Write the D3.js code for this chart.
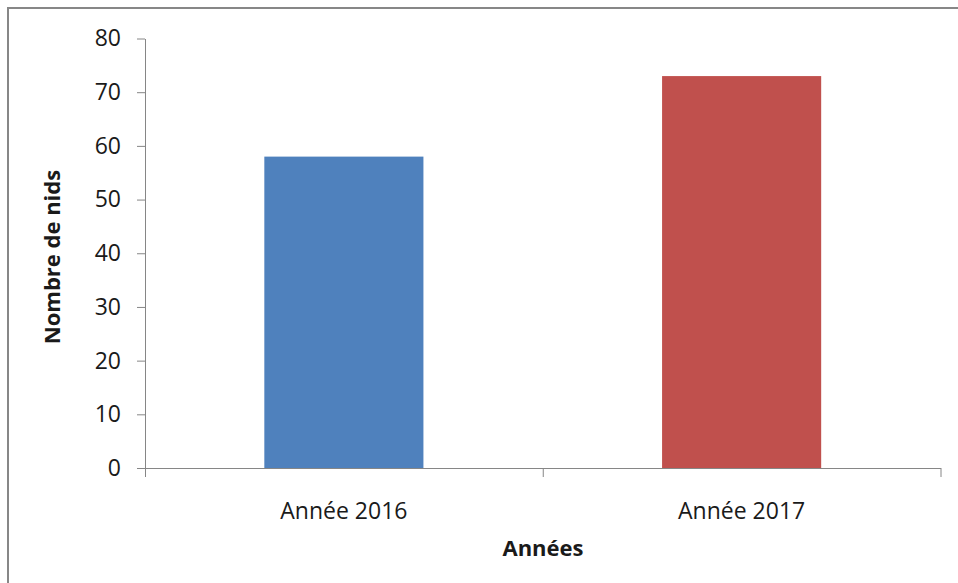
<!DOCTYPE html>
<html>
<head>
<meta charset="utf-8">
<script src="https://cdn.jsdelivr.net/npm/d3@7"></script>
<style>
  html, body { margin: 0; padding: 0; background: #fff; }
  svg { display: block; font-family: "Open Sans", sans-serif; }
</style>
</head>
<body>
<svg id="chart"></svg>
<script>
const categories = ["Année 2016", "Année 2017"];
const values = [58, 73];
const colors = ["#4F81BD", "#C0504D"];
const yTicks = [0, 10, 20, 30, 40, 50, 60, 70, 80];
const xTitle = "Années";
const yTitle = "Nombre de nids";

const width = 958;
const height = 583;
const plot = { left: 145, right: 940.5, top: 38.5, bottom: 468 };
const axisColor = "#868686";
const textColor = "#1a1a1a";

const svg = d3.select("#chart").attr("width", width).attr("height", height);

// outer frame (top + left edges visible in the crop)
svg.append("path")
  .attr("d", `M8,${height} V8 H${width}`)
  .attr("fill", "none")
  .attr("stroke", "#878787")
  .attr("stroke-width", 2);

const x = d3.scaleBand()
  .domain(categories)
  .range([plot.left, plot.right])
  .paddingInner(0.6)
  .paddingOuter(0.3);

// category boundaries for the tick marks
const xEdges = d3.scaleLinear()
  .domain([0, categories.length])
  .range([plot.left, plot.right]);

const y = d3.scaleLinear()
  .domain([0, 80])
  .range([plot.bottom, plot.top]);

svg.selectAll(".bar")
  .data(values)
  .enter()
  .append("rect")
  .attr("class", "bar")
  .attr("x", (d, i) => x(categories[i]))
  .attr("y", (d) => y(d))
  .attr("width", x.bandwidth())
  .attr("height", (d) => y(0) - y(d))
  .attr("fill", (d, i) => colors[i]);

// y axis
const yAxis = svg.append("g")
  .attr("transform", `translate(${plot.left},0)`)
  .call(d3.axisLeft(y).tickValues(yTicks).tickSize(8).tickPadding(16).tickSizeOuter(0));
yAxis.select(".domain").attr("stroke", axisColor);
yAxis.selectAll(".tick line").attr("stroke", axisColor);
yAxis.selectAll(".tick text")
  .attr("fill", textColor)
  .attr("font-size", "23px")
  .attr("font-family", "Open Sans, sans-serif");

// x axis
const xAxis = svg.append("g")
  .attr("transform", `translate(0,${plot.bottom})`)
  .call(d3.axisBottom(xEdges).tickValues(d3.range(categories.length + 1)).tickSize(9).tickFormat("").tickSizeOuter(0));
xAxis.select(".domain").attr("stroke", axisColor);
xAxis.selectAll(".tick line").attr("stroke", axisColor);

svg.selectAll(".cat-label")
  .data(categories)
  .enter()
  .append("text")
  .attr("class", "cat-label")
  .attr("x", (d) => x(d) + x.bandwidth() / 2)
  .attr("y", plot.bottom + 51)
  .attr("text-anchor", "middle")
  .attr("fill", textColor)
  .attr("font-size", "23px")
  .text((d) => d);

svg.append("text")
  .attr("x", 543)
  .attr("y", 556)
  .attr("text-anchor", "middle")
  .attr("fill", textColor)
  .attr("font-size", "22px")
  .attr("font-weight", "bold")
  .text(xTitle);

svg.append("text")
  .attr("transform", "translate(60,257) rotate(-90)")
  .attr("text-anchor", "middle")
  .attr("fill", textColor)
  .attr("font-size", "22px")
  .attr("font-weight", "bold")
  .text(yTitle);
</script>
</body>
</html>
